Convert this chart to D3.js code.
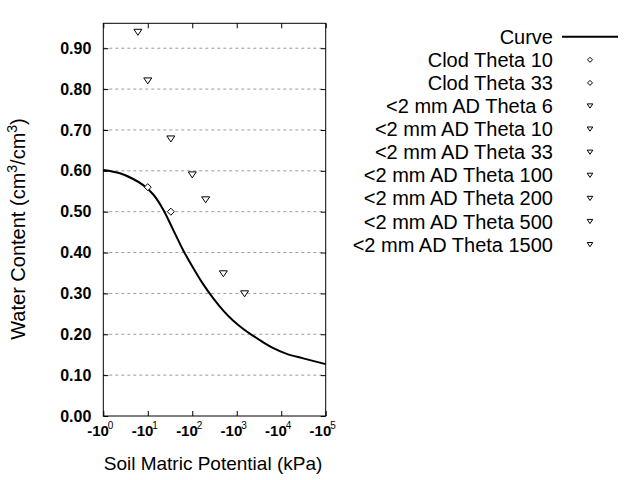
<!DOCTYPE html>
<html><head><meta charset="utf-8">
<script src="https://cdn.jsdelivr.net/npm/d3@7"></script>
<style>body{margin:0;background:#fff}svg{display:block}text{font-family:"Liberation Sans",Arial,sans-serif}</style>
</head><body>
<svg id="c" width="640" height="480"></svg>
<script>
// Data
const curvePotential = [-1, -2.37, -4.7, -7.9, -13.3, -22.3, -37.5, -62.9, -105.5, -177, -297, -499, -837, -1403, -2356, -3954, -6637, -13280, -31350, -100000];
const curveTheta     = [0.602, 0.594, 0.580, 0.565, 0.542, 0.505, 0.455, 0.405, 0.362, 0.322, 0.288, 0.258, 0.233, 0.213, 0.196, 0.180, 0.166, 0.152, 0.141, 0.127];
const clodLabels = ["Clod Theta 10", "Clod Theta 33"];
const clodPotential = [-10, -33];
const clodTheta = [0.56, 0.50];
const adLabels = ["<2 mm AD Theta 6", "<2 mm AD Theta 10", "<2 mm AD Theta 33", "<2 mm AD Theta 100", "<2 mm AD Theta 200", "<2 mm AD Theta 500", "<2 mm AD Theta 1500"];
const adPotential = [-6, -10, -33, -100, -200, -500, -1500];
const adTheta = [0.939, 0.82, 0.678, 0.59, 0.529, 0.348, 0.299];
const yTicks = [0, 0.1, 0.2, 0.3, 0.4, 0.5, 0.6, 0.7, 0.8, 0.9];
const xTicks = [-1, -10, -100, -1000, -10000, -100000];
const xTickExp = ["0", "1", "2", "3", "4", "5"];

const svg = d3.select("#c");
const L = 103.3, R = 325.7, T = 23.3, B = 416;
const x = d3.scaleLog().domain([-1, -100000]).range([L, R]);
const y = d3.scaleLinear().domain([0, 0.961]).range([B, T]);

// grid
svg.append("g").selectAll("line").data(yTicks.filter(d => d > 0)).join("line")
  .attr("x1", L).attr("x2", R).attr("y1", d => y(d)).attr("y2", d => y(d))
  .attr("stroke", "#9a9a9a").attr("stroke-width", 1).attr("stroke-dasharray", "3,3");

// axes
const tickLen = 5;
const gl = svg.append("g").attr("transform", `translate(${L},0)`)
  .call(d3.axisLeft(y).tickValues(yTicks).tickFormat(d3.format(".2f")).tickSizeInner(-tickLen).tickSizeOuter(0).tickPadding(12));
const gr = svg.append("g").attr("transform", `translate(${R},0)`)
  .call(d3.axisRight(y).tickValues(yTicks).tickFormat("").tickSizeInner(-tickLen).tickSizeOuter(0));
const gb = svg.append("g").attr("transform", `translate(0,${B})`)
  .call(d3.axisBottom(x).tickValues(xTicks).tickFormat("").tickSizeInner(-tickLen).tickSizeOuter(0));
const gt = svg.append("g").attr("transform", `translate(0,${T})`)
  .call(d3.axisTop(x).tickValues(xTicks).tickFormat("").tickSizeInner(-tickLen).tickSizeOuter(0));
[gl, gr, gb, gt].forEach(g => { g.select(".domain").remove(); g.selectAll("line").attr("stroke", "#000"); });
gl.selectAll("text").attr("font-size", 16).attr("font-weight", "bold").attr("fill", "#000")
  .attr("font-family", '"Liberation Sans",Arial,sans-serif');

// frame
svg.append("rect").attr("x", L).attr("y", T).attr("width", R - L).attr("height", B - T)
  .attr("fill", "none").attr("stroke", "#000").attr("stroke-width", 1);

// x tick labels
const xl = svg.append("g").selectAll("text").data(xTicks).join("text")
  .attr("x", d => x(d) - 3).attr("y", B + 20).attr("text-anchor", "middle")
  .attr("font-size", 15).attr("font-weight", "bold");
xl.append("tspan").text("-10");
xl.append("tspan").text((d, i) => xTickExp[i]).attr("font-size", 10).attr("dy", -7).attr("dx", -1).attr("font-weight", "normal");

// curve
const line = d3.line().x(d => x(d[0])).y(d => y(d[1])).curve(d3.curveCatmullRom);
svg.append("path").datum(curvePotential.map((p, i) => [p, curveTheta[i]]))
  .attr("d", line).attr("fill", "none").attr("stroke", "#000").attr("stroke-width", 2);

const diamond = s => `M0,${-s}L${s},0L0,${s}L${-s},0Z`;
const tri = s => `M${-s},${-s * 0.75}L${s},${-s * 0.75}L0,${s * 0.75}Z`;

svg.append("g").selectAll("path").data(clodPotential).join("path")
  .attr("transform", (d, i) => `translate(${x(d)},${y(clodTheta[i])})`)
  .attr("d", diamond(3.5)).attr("fill", "#fff").attr("stroke", "#000").attr("stroke-width", 1);
svg.append("g").selectAll("path").data(adPotential).join("path")
  .attr("transform", (d, i) => `translate(${x(d)},${y(adTheta[i])})`)
  .attr("d", tri(4)).attr("fill", "#fff").attr("stroke", "#000").attr("stroke-width", 1);

// axis titles
svg.append("text").attr("x", 213).attr("y", 470).attr("text-anchor", "middle").attr("font-size", 19)
  .text("Soil Matric Potential (kPa)");
const yt = svg.append("text").attr("transform", "translate(25,229) rotate(-90)").attr("text-anchor", "middle").attr("font-size", 20);
yt.append("tspan").text("Water Content (cm");
yt.append("tspan").text("3").attr("font-size", 14).attr("dy", -8);
yt.append("tspan").text("/cm").attr("dy", 8);
yt.append("tspan").text("3").attr("font-size", 14).attr("dy", -8);
yt.append("tspan").text(")").attr("dy", 8);

// legend
const legendItems = [{label: "Curve", type: "line"}]
  .concat(clodLabels.map(l => ({label: l, type: "diamond"})))
  .concat(adLabels.map(l => ({label: l, type: "tri"})));
const lg = svg.append("g").selectAll("g").data(legendItems).join("g")
  .attr("transform", (d, i) => `translate(0,${36.7 + i * 23.1})`);
lg.append("text").attr("x", 553).attr("y", 7).attr("text-anchor", "end").attr("font-size", 20).text(d => d.label);
lg.filter(d => d.type === "line").append("line").attr("x1", 562).attr("x2", 618).attr("y1", 0).attr("y2", 0)
  .attr("stroke", "#000").attr("stroke-width", 2);
lg.filter(d => d.type === "diamond").append("path").attr("transform", "translate(590,0)")
  .attr("d", diamond(2.5)).attr("fill", "#fff").attr("stroke", "#000").attr("stroke-width", 1);
lg.filter(d => d.type === "tri").append("path").attr("transform", "translate(590,0)")
  .attr("d", tri(2.8)).attr("fill", "#fff").attr("stroke", "#000").attr("stroke-width", 1);
</script>
</body></html>
